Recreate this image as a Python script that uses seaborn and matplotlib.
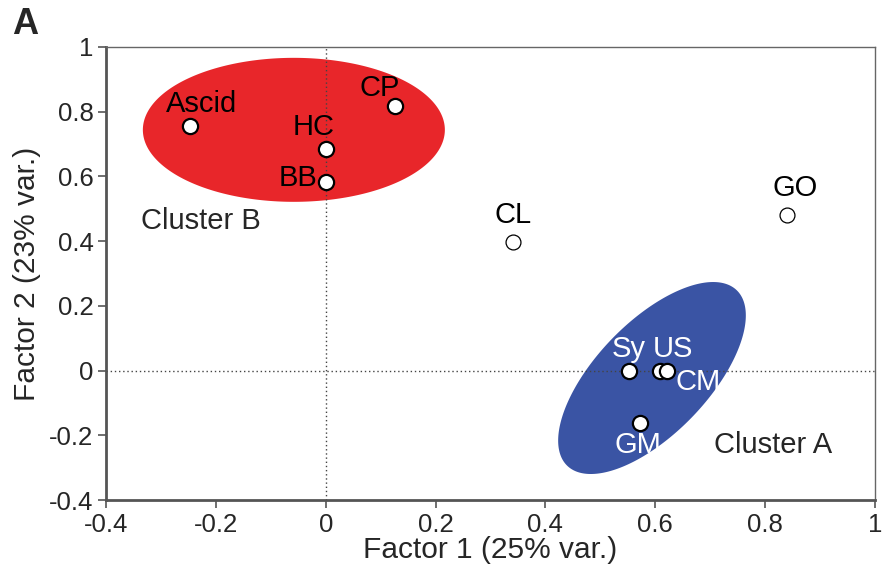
import numpy as np
import matplotlib
matplotlib.use("Agg")
import matplotlib.pyplot as plt
import pandas as pd
import seaborn as sns

# Factor loadings of each variable on the first two factors
labels = ["Ascid", "CP", "HC", "BB", "CL", "GO", "Sy", "US", "CM", "GM"]
factor1 = [-0.247, 0.126, 0.0, 0.0, 0.341, 0.840, 0.552, 0.609, 0.621, 0.572]
factor2 = [0.756, 0.817, 0.685, 0.583, 0.397, 0.480, 0.0, 0.0, 0.0, -0.162]
group = ["B", "B", "B", "B", "none", "none", "A", "A", "A", "A"]
label_color = ["black", "black", "black", "black", "black", "black",
               "white", "white", "white", "white"]
# label offsets in pixels relative to each point
label_dx = [12, -15, -12, -28, 0, 8, 0, 13, 31, -2]
label_dy = [22, 18, 22, 4, 27, 27, 22, 22, -11, -22]

x_ticks = [-0.4, -0.2, 0, 0.2, 0.4, 0.6, 0.8, 1]
y_ticks = [-0.4, -0.2, 0, 0.2, 0.4, 0.6, 0.8, 1]
tick_text = ["-0.4", "-0.2", "0", "0.2", "0.4", "0.6", "0.8", "1"]

# cluster envelopes: centre, semi-axes in pixels, tilt in degrees (screen space)
cluster_b = dict(cx=-0.058, cy=0.744, a=151, b=72, angle=0, color="#E8262A")
cluster_a = dict(cx=0.594, cy=-0.023, a=122, b=56, angle=46, color="#3A54A4")

df = pd.DataFrame({"label": labels, "f1": factor1, "f2": factor2, "group": group})

sns.set_theme(style="white")
plt.rcParams["font.family"] = ["Liberation Sans", "DejaVu Sans"]

W, H = 884, 577
fig = plt.figure(figsize=(W / 100, H / 100), dpi=100)
left, right, top, bottom = 106, 875, 47, 500
ax = fig.add_axes([left / W, 1 - bottom / H, (right - left) / W, (bottom - top) / H])
ax.set_xlim(-0.4, 1.0)
ax.set_ylim(-0.4, 1.0)

# pixels per data unit, used to draw the envelopes as true ellipses on screen
sx = (right - left) / 1.4
sy = (bottom - top) / 1.4


def envelope(c):
    t = np.linspace(0, 2 * np.pi, 300)
    th = np.deg2rad(c["angle"])
    px = c["a"] * np.cos(t) * np.cos(th) - c["b"] * np.sin(t) * np.sin(th)
    py = c["a"] * np.cos(t) * np.sin(th) + c["b"] * np.sin(t) * np.cos(th)
    return c["cx"] + px / sx, c["cy"] + py / sy


for c in (cluster_b, cluster_a):
    ex, ey = envelope(c)
    ax.fill(ex, ey, color=c["color"], lw=0, zorder=1)

# reference lines through the origin
ax.axvline(0, color="#444444", lw=1.0, ls=(0, (1, 2)), zorder=2)
ax.axhline(0, color="#444444", lw=1.0, ls=(0, (1, 2)), zorder=2)

clustered = df[df["group"] != "none"]
loose = df[df["group"] == "none"]
sns.scatterplot(data=clustered, x="f1", y="f2", ax=ax, s=120, color="white",
                edgecolor="black", linewidth=1.6, zorder=4, legend=False)
sns.scatterplot(data=loose, x="f1", y="f2", ax=ax, s=115, color="white",
                edgecolor="black", linewidth=0.9, zorder=4, legend=False)

for lab, x, y, dx, dy, col in zip(labels, factor1, factor2, label_dx, label_dy, label_color):
    ax.annotate(lab, (x, y), xytext=(dx, dy), textcoords="offset pixels",
                ha="center", va="center", fontsize=21, color=col, zorder=5)

ax.text(-0.227, 0.462, "Cluster B", fontsize=21, ha="center", va="center", zorder=5)
ax.text(0.814, -0.230, "Cluster A", fontsize=21, ha="center", va="center", zorder=5)

ax.set_xticks(x_ticks)
ax.set_xticklabels(tick_text)
ax.set_yticks(y_ticks)
ax.set_yticklabels(tick_text)
ax.tick_params(axis="both", which="both", direction="out", length=6, width=1.2,
               color="#555555", labelsize=18.5, pad=3, bottom=True, left=True)
ax.set_xlabel("Factor 1 (25% var.)", fontsize=21.5, labelpad=0)
ax.set_ylabel("Factor 2 (23% var.)", fontsize=21.5, labelpad=6)

for side in ("left", "bottom"):
    ax.spines[side].set_color("#555555")
    ax.spines[side].set_linewidth(2.0)
for side in ("top", "right"):
    ax.spines[side].set_color("#666666")
    ax.spines[side].set_linewidth(1.0)

fig.text(12 / W, 1 - 25 / H, "A", fontsize=26, fontweight="bold", ha="left", va="center")

fig.savefig("out.png", dpi=100)
